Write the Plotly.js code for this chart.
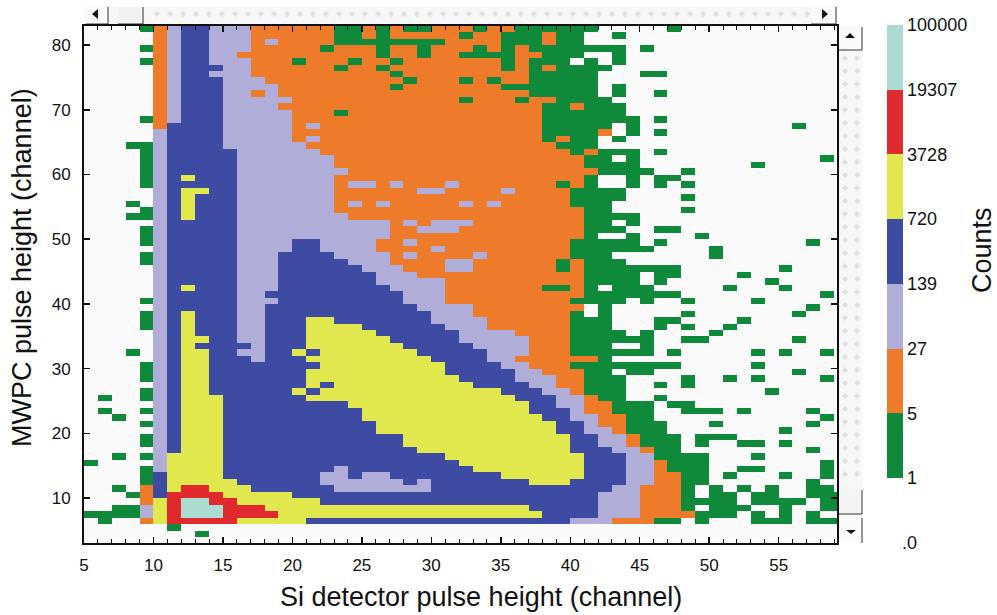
<!DOCTYPE html>
<html>
<head>
<meta charset="utf-8">
<script src="https://cdn.plot.ly/plotly-3.0.1.min.js"></script>
<style>html,body{margin:0;padding:0;background:#fff}#chart{width:997px;height:615px}</style>
</head>
<body>
<div id="chart"></div>
<script>
// Channels on the two axes
var firstColumn = 5, lastColumn = 59, topRow = 82, bottomRow = 3;
// Counts bands: letter in the rows below -> colour band
var bandLetters = ["g","o","l","b","y","r","t"];
var bandColors = ["#0e8a3a","#ee7b2a","#b0aed8","#3d4ca2","#e0e84e","#e12a2e","#abdcd1"];
var bandTickLabels = ["1","5","27","139","720","3728","19307","100000"];
// One string per MWPC channel, top to bottom. Each token "<Si channel><band>" starts a run (w = no counts).
var rowRuns = [
"9g 10o 11l 12b 14l 17o 23g 25o 26g 27o 28g 30o 33g 34o 36g 42w 47g 48w",
"10o 11l 12b 14l 17o 23g 25o 26g 27o 32g 33o 35g 38o 39g 41w 43g 44w",
"10o 11l 12b 14l 17o 18l 19o 23g 31o 35g 38o 39g 41w",
"9g 10o 11l 12b 14l 17o 22g 23o 26g 27o 29g 30o 33g 34o 35g 36o 37g 44w 45g 46w",
"10o 11l 12b 14l 16o 26g 27o 29g 30o 32g 36o 38g 41w 43g 44w",
"9g 10o 11l 12b 14l 17o 20g 21o 24g 25o 27g 28o 35g 36o 37g 40w 41g 42w 43g 44w",
"10o 11l 12b 15l 17o 23g 24o 26g 27o 35g 36o 37g 38o 39g 43w",
"10o 11l 12b 14l 17o 27g 28o 37g 42w 45g 47w",
"10o 11l 12b 15l 18o 28g 29o 32g 33o 34g 35o 37g 42w",
"10o 11l 12b 15l 19o 27g 28o 35g 42w 43g 44w",
"10o 11l 12b 15l 17o 18l 19o 37g 42w 43g 44w 46g 47w",
"10o 11l 12b 15l 20o 32g 33o 36g 37o 39g 43w",
"10o 11l 12b 15l 19o 38g 40o 41g 44w",
"10o 11l 12b 15l 20o 23g 24o 38g 44w",
"9g 10o 11l 12b 15l 20o 38g 45w 46g 47w",
"10o 11b 15l 20o 21l 22o 38g 43w 44g 45w 56g 57w",
"10l 11b 15l 20o 38g 42o 43w 44g 45w 46g 47w",
"10l 11b 15l 20o 21l 22o 38g 39o 40g 42w 43g 44w",
"8g 10l 11b 15l 21o 39g 42w",
"9g 10l 11b 16l 22o 40g 41o 42g 45w 46g 47w",
"9g 10l 11b 16l 23o 41g 43w 44g 45w 58g 59w",
"9g 10l 11b 16l 23o 41g 45w 53g 54w",
"9g 10l 11b 16l 24o 42g 46w 48g 49w",
"9g 10l 11b 12y 13b 16l 23o 41g 42w 44g 45w 46g 48w",
"9g 10l 11b 16l 23o 24l 26o 27l 28o 31l 32o 39g 40o 41g 42w 44g 45w 46g 47w 48g 49w",
"10l 11b 12y 14b 16l 23o 29l 31o 35l 36o 40g 44w",
"10l 11b 12y 13b 16l 23o 40g 44w 48g 49w",
"8g 9w 10l 11b 12y 13b 16l 23o 24l 25o 26l 27o 32l 33o 34l 35o 40g 43w",
"9g 10l 11b 12y 13b 16l 23o 41g 43w 48g 49w",
"8g 10l 11b 12y 13b 16l 24o 41g 45w",
"10l 11b 16l 27o 28l 29o 30l 33o 41g 43w 44g 45w",
"9g 10l 11b 16l 27o 29l 32o 41g 44w 46g 48w",
"9g 10l 11b 16l 27o 41g 42w 44g 45w 49g 50w",
"9g 10l 11b 16l 20b 22l 26o 28l 29o 40g 45w 46g 47w 57g 58w",
"10l 11b 16l 20b 22l 26o 30l 31o 40g 46w 50g 51w",
"9g 10l 11b 16l 19b 23l 27o 28l 29o 33l 34o 40g 43w 50g 51w",
"9g 10l 11b 16l 19b 24l 27o 31l 33o 39g 40o 41g 44w",
"10l 11b 16l 19b 25l 28o 31l 33o 39g 40o 41g 48w 55g 56w",
"10l 11b 16l 19b 26l 29o 41g 45w 46g 48w 52g 53w",
"10l 11b 16l 19b 26l 31o 41g 45w 46g 47w 54g 55w",
"10l 11b 12y 13b 16l 19b 27l 31o 38g 40o 41g 42w 43g 46w 51g 52w 55g 56w",
"10l 11b 16l 18b 28l 31o 41g 48w 58g 59w",
"9g 10l 11b 16l 18l 19b 28l 31o 40g 44w 45g 46w 48g 49w 53g 54w",
"10l 11b 16l 18b 29l 33o 40o 41w 42g 43w 57g 58w",
"9g 10l 11b 12y 13b 16l 18b 30l 33o 40g 41w 42g 43w 48g 49w 56g 57w",
"9g 10l 11b 12y 13b 16l 18b 21y 23b 30l 34o 40g 43w 46g 48w 52g 53w",
"9g 10l 11b 12y 13b 16l 18b 21y 25b 31l 34o 40g 43w 46g 47w 48g 49w 51g 52w",
"10l 11b 12y 13b 16l 18b 21y 26b 32l 36o 40g 44w 45g 46w 50g 51w",
"10l 11b 12y 14b 16l 18b 21y 27b 32l 37o 40g 46w 48g 50w 56g 57w",
"10l 11b 12y 13b 16b 17l 18b 21y 28b 33l 37o 40g 43w 45g 46w",
"8g 9w 10l 11b 12y 14b 16l 18b 20y 21b 22y 29b 34l 37o 40g 46w 47g 48w 53g 54w 55g 56w 58g 59w",
"10l 11b 12y 14b 17l 18b 21y 30b 34l 36o 42g 43w",
"9g 10l 11b 12y 14b 21b 22y 31b 35l 37o 40g 48w 53g 54w",
"9g 10l 11b 12y 14b 21y 31b 36l 38o 41g 43w 44g 46w 56g 57w",
"9g 10l 11b 12y 14b 21y 32b 36l 39o 41g 44w 48g 49w 51g 52w 53g 54w 58g 59w",
"10l 11b 12y 14b 21y 22b 23y 33b 37l 39o 41g 44w 46g 47w 48g 49w",
"9g 10l 11b 12y 14b 20y 21b 22y 35b 38l 40o 41g 44w 54g 55w",
"6g 7w 9g 10l 11b 12y 15b 21y 36b 39l 41o 42g 44w 46g 47w",
"10l 11b 12y 15b 24y 37b 39l 41o 43g 46w 47g 49w",
"6g 7w 9g 10l 11b 12y 15b 25y 37b 40l 41o 43g 46w 48g 51w 52g 53w 57g 58w",
"7g 8w 10l 11b 12y 15b 25y 38b 40l 42o 44g 46w 58g 59w",
"9g 10l 11b 12y 15b 26y 39b 41l 42o 44g 47w 50g 51w 57g 58w",
"10l 11b 12y 15b 26y 39b 41l 43o 44g 47w 55g 56w",
"9g 10l 11b 12y 15b 28y 40b 42l 44o 45g 48w 49g 52w",
"9g 10l 11b 12y 15b 28y 40b 42l 44o 45g 48w 49g 50w 52g 54w 55g 56w",
"10l 11b 12y 15b 29y 40b 43l 45o 46g 48w 57g 58w",
"7g 8w 9g 10l 11y 15b 31y 41b 44l 46g 50w 53g 54w",
"5g 6w 10l 11y 15b 32y 41b 44l 46o 47g 50w 58g 59w",
"9g 10l 11y 15b 23l 24b 33y 41b 44l 46o 47g 50w 52g 54w 58g 59w",
"9g 10b 11y 15b 22l 24b 25l 27b 35y 41b 44l 46o 48g 50w 51g 52w 55g 56w 58g 59w",
"9g 10b 11y 16b 22l 28b 29l 30b 37y 40b 44l 46o 48g 50w 57g 58w",
"7g 8w 9o 10b 11y 12r 14y 17b 23l 30b 43l 45o 48g 49w 50g 51w 52g 53w 54g 55w 57g 59w",
"8g 9o 10b 11r 15y 20b 42l 45o 48g 49w 50g 52w 53g 55w 57g 58w 58g",
"9o 10y 11r 12t 14r 16y 22b 42l 45o 48g 52w 53g 57w 58g",
"7g 9l 10y 11r 12t 15r 18y 37b 42l 45o 48g 49w 50g 53w 55g 56w 58g",
"5g 9l 10y 11r 12t 15r 19y 38b 42l 45o 48o 49g 52w 53g 54w 55g 56w 57g 58w",
"6g 7w 9o 10y 11r 16y 21b 40l 43o 46g 48w 49g 50w 53g 56w 57g",
"11g 12w",
"13g 14w",
""
];

var columns = [], rows = [], z = [];
for (var c = firstColumn; c <= lastColumn; c++) columns.push(c + 0.5);
rowRuns.forEach(function (runs, i) {
  rows.push(topRow - i + 0.5);
  var line = columns.map(function () { return null; });
  var tokens = runs ? runs.split(" ") : [];
  tokens.forEach(function (t, k) {
    var start = parseInt(t, 10), letter = t.slice(-1);
    var end = k + 1 < tokens.length ? parseInt(tokens[k + 1], 10) : lastColumn + 1;
    var band = bandLetters.indexOf(letter);
    for (var col = start; col < end; col++) line[col - firstColumn] = band < 0 ? null : band + 0.5;
  });
  z.push(line);
});

var scale = [];
bandColors.forEach(function (col, i) {
  scale.push([i / 7, col]);
  scale.push([(i + 1) / 7, col]);
});

var W = 997, H = 615;
var L = 84, R = 837, T = 26, B = 543;
var px = function (x) { return (x - L) / (R - L); };
var py = function (y) { return (B - y) / (B - T); };
function rect(x0, y0, x1, y1, fill) {
  return {type: "rect", xref: "paper", yref: "paper", x0: px(x0), x1: px(x1), y0: py(y0), y1: py(y1),
          fillcolor: fill, line: {width: 0}, layer: "below"};
}
function poly(pts, fill) {
  var d = pts.map(function (p, i) { return (i ? "L" : "M") + px(p[0]) + "," + py(p[1]); }).join(" ") + " Z";
  return {type: "path", xref: "paper", yref: "paper", path: d, fillcolor: fill, line: {width: 0}, layer: "below"};
}
function seg(x0, y0, x1, y1, col, w) {
  return {type: "line", xref: "paper", yref: "paper", x0: px(x0), x1: px(x1), y0: py(y0), y1: py(y1),
          line: {color: col || "#333", width: w || 1}, layer: "below"};
}
var shapes = [rect(84, 7, 837, 25, "#f7f7f7"), rect(838, 26, 862, 543, "#f7f7f7")];
function diamond(x, y) {
  shapes.push(poly([[x - 3, y], [x, y - 3], [x + 3, y], [x, y + 3]], "#e0e0e0"));
}
for (var dx = 157; dx < 810; dx += 13) diamond(dx, 14);
for (var dy = 58; dy < 485; dy += 13) { diamond(845, dy); diamond(857, dy); }
// scroll-bar buttons and thumbs
shapes.push(rect(86, 7, 108, 24, "#fafafa"), seg(108, 7, 108, 24), seg(86, 24, 108, 24));
shapes.push(rect(118, 7, 143, 24, "#f2f2f2"), seg(143, 7, 143, 24), seg(118, 24, 143, 24));
shapes.push(poly([[92, 14], [98, 9], [98, 19]], "#111"));
shapes.push(rect(811, 7, 836, 24, "#fafafa"), seg(836, 7, 836, 24), seg(811, 24, 836, 24));
shapes.push(poly([[828, 14], [822, 9], [822, 19]], "#111"));
shapes.push(rect(838, 27, 862, 50, "#fafafa"), seg(862, 27, 862, 50), seg(838, 50, 862, 50));
shapes.push(poly([[850, 33], [845, 38], [855, 38]], "#111"));
shapes.push(rect(838, 490, 862, 514, "#f4f4f4"), seg(862, 490, 862, 514), seg(838, 514, 862, 514));
shapes.push(rect(838, 518, 862, 543, "#fafafa"), seg(862, 518, 862, 543));
shapes.push(poly([[851, 534], [846, 530], [856, 530]], "#111"));

var trace = {
  type: "heatmap", x: columns, y: rows, z: z,
  zmin: 0, zmax: 7, colorscale: scale, hoverongaps: false,
  colorbar: {
    xref: "paper", yref: "paper",
    x: px(887), xanchor: "left", y: py(478), yanchor: "bottom",
    len: 453, lenmode: "pixels", thickness: 16, thicknessmode: "pixels",
    xpad: 0, ypad: 0, outlinewidth: 0, borderwidth: 0, ticks: "", ticklen: 0,
    tickmode: "array", tickvals: [0, 1, 2, 3, 4, 5, 6, 7], ticktext: bandTickLabels,
    tickfont: {family: "Liberation Sans, Arial, sans-serif", size: 18, color: "#111"}
  }
};

var axisFont = {family: "Liberation Sans, Arial, sans-serif", size: 17, color: "#111"};
var titleFont = {family: "Liberation Sans, Arial, sans-serif", size: 27, color: "#111"};
var layout = {
  width: W, height: H, autosize: false,
  margin: {l: L, r: W - R, t: T, b: H - B, pad: 0},
  paper_bgcolor: "#ffffff", plot_bgcolor: "#fafafa",
  font: axisFont,
  xaxis: {
    range: [5, 59.2], tickvals: [5, 10, 15, 20, 25, 30, 35, 40, 45, 50, 55], ticktext: ["5","10","15","20","25","30","35","40","45","50","55"],
    ticks: "inside", ticklen: 6, tickwidth: 1.5, tickcolor: "#111", ticklabelstandoff: 6,
    minor: {dtick: 1, ticks: "inside", ticklen: 4, tickwidth: 1, tickcolor: "#111", showgrid: false},
    showline: true, linewidth: 2, linecolor: "#111", mirror: "ticks", showgrid: false, zeroline: false,
    tickfont: axisFont
  },
  yaxis: {
    range: [3.05, 82.95], tickvals: [10, 20, 30, 40, 50, 60, 70, 80], ticktext: ["10","20","30","40","50","60","70","80"],
    ticks: "inside", ticklen: 6, tickwidth: 1.5, tickcolor: "#111", ticklabelstandoff: 8,
    showline: true, linewidth: 2, linecolor: "#111", mirror: "ticks", showgrid: false, zeroline: false,
    tickfont: axisFont
  },
  shapes: shapes,
  annotations: [
    {text: "Si detector pulse height (channel)", xref: "paper", yref: "paper", x: px(481), y: py(597),
     xanchor: "center", yanchor: "middle", showarrow: false, font: titleFont},
    {text: "MWPC pulse height (channel)", xref: "paper", yref: "paper", x: px(22), y: py(268), textangle: -90,
     xanchor: "center", yanchor: "middle", showarrow: false, font: titleFont},
    {text: "Counts", xref: "paper", yref: "paper", x: px(982), y: py(250), textangle: -90,
     xanchor: "center", yanchor: "middle", showarrow: false, font: titleFont},
    {text: ".0", xref: "paper", yref: "paper", x: px(910), y: py(543),
     xanchor: "center", yanchor: "middle", showarrow: false, font: {family: "Liberation Sans, Arial, sans-serif", size: 18, color: "#111"}}
  ]
};
Plotly.newPlot("chart", [trace], layout, {displayModeBar: false, staticPlot: true});
</script>
</body>
</html>
